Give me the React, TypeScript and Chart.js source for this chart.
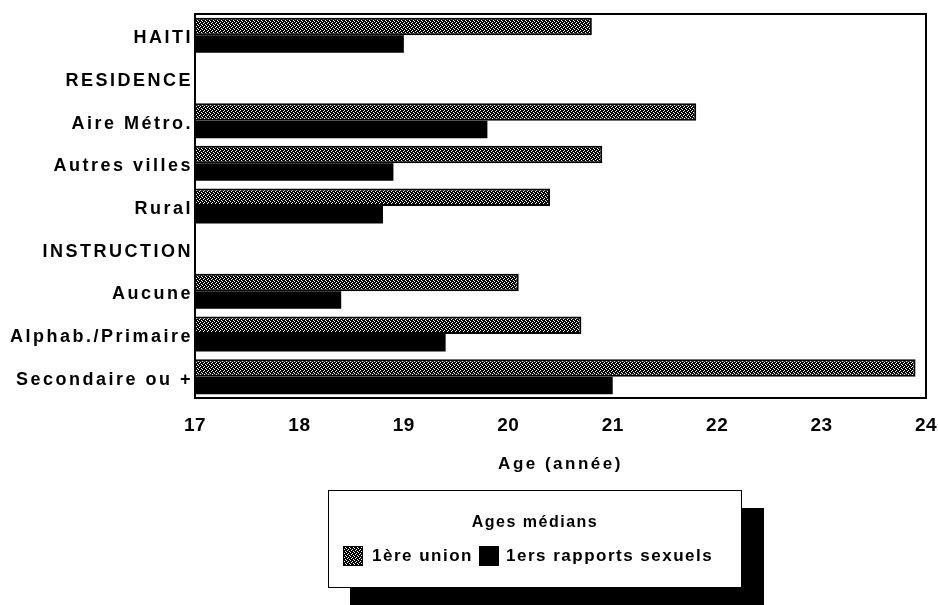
import React, { useEffect, useRef } from "react";
import { Chart, registerables } from "chart.js";

Chart.register(...registerables);

const categories = [
  "HAITI",
  "RESIDENCE",
  "Aire Métro.",
  "Autres villes",
  "Rural",
  "INSTRUCTION",
  "Aucune",
  "Alphab./Primaire",
  "Secondaire ou +",
];
const premiereUnion = [20.8, null, 21.8, 20.9, 20.4, null, 20.1, 20.7, 23.9];
const premiersRapports = [19.0, null, 19.8, 18.9, 18.8, null, 18.4, 19.4, 21.0];
const seriesNames = ["1ère union", "1ers rapports sexuels"];
const legendTitle = "Ages médians";
const axisTitle = "Age (année)";
const xMin = 17;
const xMax = 24;

const FONT = "'Liberation Sans', Arial, sans-serif";

function makePatternCanvas(): HTMLCanvasElement {
  const c = document.createElement("canvas");
  c.width = 4;
  c.height = 4;
  const g = c.getContext("2d")!;
  g.fillStyle = "#ffffff";
  g.fillRect(0, 0, 4, 4);
  g.fillStyle = "#000000";
  const rows = ["B.BB", "BB.B", ".BBB", "BBB."];
  rows.forEach((r, y) => {
    for (let x = 0; x < 4; x++) if (r[x] === "B") g.fillRect(x, y, 1, 1);
  });
  return c;
}

export default function App() {
  const canvasRef = useRef<HTMLCanvasElement | null>(null);
  const swatchRef = useRef<HTMLDivElement | null>(null);

  useEffect(() => {
    document.body.style.margin = "0";
    const canvas = canvasRef.current!;
    const ctx = canvas.getContext("2d")!;
    const pc = makePatternCanvas();
    const pattern = ctx.createPattern(pc, "repeat")!;
    if (swatchRef.current) {
      swatchRef.current.style.backgroundImage = `url(${pc.toDataURL()})`;
    }

    // letter spacing by font: tick numbers tight, words spaced
    const spacing = {
      id: "spacing",
      beforeInit(chart: any) {
        const c: any = chart.ctx;
        if (c.__wrapped) return;
        c.__wrapped = true;
        const orig = c.fillText.bind(c);
        c.fillText = (text: string, x: number, y: number, mw?: number) => {
          const prev = c.letterSpacing;
          c.letterSpacing = String(c.font).includes("19px") ? "0.5px" : "2.5px";
          if (mw === undefined) orig(text, x, y);
          else orig(text, x, y, mw);
          c.letterSpacing = prev;
        };
      },
    };

    const frame = {
      id: "frame",
      afterDraw(chart: any) {
        const { ctx: c, chartArea: a } = chart;
        c.save();
        c.strokeStyle = "#000";
        c.lineWidth = 2;
        c.strokeRect(a.left, a.top, a.right - a.left, a.bottom - a.top);
        c.restore();
      },
    };

    const chart = new Chart(ctx, {
      type: "bar",
      data: {
        labels: categories,
        datasets: [
          {
            label: seriesNames[0],
            data: premiereUnion as any,
            backgroundColor: pattern as any,
            borderColor: "#000",
            borderWidth: 2,
            borderSkipped: false,
            categoryPercentage: 0.82,
            barPercentage: 1.0,
          },
          {
            label: seriesNames[1],
            data: premiersRapports as any,
            backgroundColor: "#000",
            borderColor: "#000",
            borderWidth: 0,
            categoryPercentage: 0.82,
            barPercentage: 1.0,
          },
        ],
      },
      options: {
        indexAxis: "y",
        animation: false,
        responsive: false,
        maintainAspectRatio: false,
        layout: { padding: { left: 0, right: 12, top: 14, bottom: 127 } },
        plugins: {
          legend: { display: false },
          tooltip: { enabled: false },
        },
        scales: {
          x: {
            type: "linear",
            min: xMin,
            max: xMax,
            grid: { display: false, drawTicks: false },
            border: { display: false },
            ticks: {
              stepSize: 1,
              padding: 16,
              color: "#000",
              font: { family: FONT, size: 19, weight: "bold" },
            },
            title: {
              display: true,
              text: axisTitle,
              color: "#000",
              padding: { top: 0, bottom: 3 },
              font: { family: FONT, size: 17, weight: "bold" },
            },
            afterFit(scale: any) {
              scale.height = 80;
              scale.paddingLeft = 0;
              scale.paddingRight = 0;
            },
          },
          y: {
            type: "category",
            grid: { display: false, drawTicks: false },
            border: { display: false },
            ticks: {
              padding: 2,
              labelOffset: 3,
              color: "#000",
              autoSkip: false,
              font: { family: FONT, size: 18, weight: "bold" },
            },
            afterFit(scale: any) {
              scale.width = 195;
            },
          },
        },
      },
      plugins: [spacing, frame],
    } as any);

    return () => chart.destroy();
  }, []);

  const textStyle: React.CSSProperties = {
    fontFamily: FONT,
    fontSize: 17,
    fontWeight: "bold",
    letterSpacing: "1.5px",
    color: "#000",
    whiteSpace: "nowrap",
  };

  return (
    <div style={{ position: "relative", width: 938, height: 605, overflow: "hidden", background: "#fff" }}>
      <canvas ref={canvasRef} width={938} height={605} style={{ display: "block" }} />
      <div
        style={{
          position: "absolute",
          left: 328,
          top: 490,
          width: 414,
          height: 98,
          boxSizing: "border-box",
          border: "1.5px solid #000",
          background: "#fff",
          boxShadow: "22px 18px 0 #000",
        }}
      >
        <div
          style={{
            ...textStyle,
            fontSize: 16,
            position: "absolute",
            left: 0,
            right: 0,
            top: 22,
            textAlign: "center",
          }}
        >
          {legendTitle}
        </div>
        <div
          style={{
            position: "absolute",
            left: 14,
            top: 55,
            display: "flex",
            alignItems: "center",
          }}
        >
          <div
            ref={swatchRef}
            style={{ width: 20, height: 20, border: "1px solid #000", boxSizing: "border-box", marginRight: 9 }}
          />
          <span style={textStyle}>{seriesNames[0]}</span>
          <div style={{ width: 20, height: 20, background: "#000", marginLeft: 6, marginRight: 7 }} />
          <span style={textStyle}>{seriesNames[1]}</span>
        </div>
      </div>
    </div>
  );
}
